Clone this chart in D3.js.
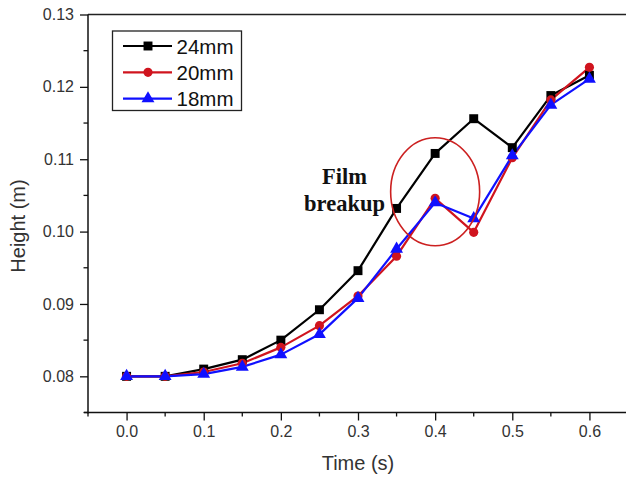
<!DOCTYPE html>
<html>
<head>
<meta charset="utf-8">
<script src="https://cdn.jsdelivr.net/npm/d3@7"></script>
<style>
  html, body { margin: 0; padding: 0; background: #fff; }
  svg { display: block; }
</style>
</head>
<body>
<svg id="chart" width="626" height="478"></svg>
<script>
// Time samples (s)
const times = [0.0, 0.05, 0.10, 0.15, 0.20, 0.25, 0.30, 0.35, 0.40, 0.45, 0.50, 0.55, 0.60];

// Interface height (m) for each nozzle size
const h24 = [0.0800, 0.0800, 0.0810, 0.0823, 0.0850, 0.0892, 0.0946, 0.1032, 0.1108, 0.1156, 0.1116, 0.1188, 0.1216];
const h20 = [0.0800, 0.0800, 0.0806, 0.0818, 0.0840, 0.0870, 0.0911, 0.0966, 0.1046, 0.0999, 0.1102, 0.1182, 0.1227];
const h18 = [0.0800, 0.0800, 0.0803, 0.0813, 0.0830, 0.0858, 0.0908, 0.0976, 0.1040, 0.1018, 0.1105, 0.1175, 0.1211];

const seriesNames = ["24mm", "20mm", "18mm"];
const xTicks = [0.0, 0.1, 0.2, 0.3, 0.4, 0.5, 0.6];
const yTicks = [0.08, 0.09, 0.10, 0.11, 0.12, 0.13];
const annotation = ["Film", "breakup"];

const SANS = "Arial, 'Liberation Sans', sans-serif";
const SERIF = "'Liberation Serif', 'Times New Roman', 'DejaVu Serif', serif";

const series = [
  { name: seriesNames[0], values: h24, color: "#000000", symbol: d3.symbolSquare, size: 80 },
  { name: seriesNames[1], values: h20, color: "#d0141e", symbol: d3.symbolCircle, size: 66 },
  { name: seriesNames[2], values: h18, color: "#1010ff", symbol: d3.symbolTriangle, size: 72 }
];

const svg = d3.select("#chart");
const plotL = 88, plotR = 628, plotT = 14.5, plotB = 412.5;

const x = d3.scaleLinear().domain([-0.05, 0.65]).range([plotL, plotR]);
const y = d3.scaleLinear().domain([0.075, 0.13]).range([plotB, plotT]);

// top frame line
svg.append("line").attr("x1", plotL).attr("x2", plotR).attr("y1", plotT).attr("y2", plotT)
  .attr("stroke", "#222").attr("stroke-width", 1.3);

// X axis
const xMinor = [-0.05, 0.05, 0.15, 0.25, 0.35, 0.45, 0.55, 0.65];
const xAxis = svg.append("g").attr("transform", `translate(0,${plotB})`);
xAxis.append("line").attr("x1", plotL - 4).attr("x2", plotR).attr("stroke", "#111").attr("stroke-width", 1.5);
xAxis.selectAll(".minor").data(xMinor).join("line")
  .attr("x1", d => x(d)).attr("x2", d => x(d)).attr("y1", 0).attr("y2", 4)
  .attr("stroke", "#111").attr("stroke-width", 1.3);
{
  const ax = d3.axisBottom(x).tickValues(xTicks).tickFormat(d3.format(".1f")).tickSizeInner(8).tickSizeOuter(0).tickPadding(5);
  const sub = xAxis.append("g").call(ax);
  sub.select(".domain").remove();
  sub.selectAll(".tick line").attr("stroke", "#111").attr("stroke-width", 1.3);
  sub.selectAll(".tick text").style("font-size", "16px").style("font-family", SANS).attr("fill", "#333");
}

// Y axis
const yMinor = [0.075, 0.085, 0.095, 0.105, 0.115, 0.125];
const yAxis = svg.append("g").attr("transform", `translate(${plotL},0)`);
yAxis.append("line").attr("y1", plotT).attr("y2", plotB + 1).attr("stroke", "#111").attr("stroke-width", 1.5);
yAxis.selectAll(".minor").data(yMinor).join("line")
  .attr("y1", d => y(d)).attr("y2", d => y(d)).attr("x1", 0).attr("x2", -4.5)
  .attr("stroke", "#111").attr("stroke-width", 1.3);
{
  const ax = d3.axisLeft(y).tickValues(yTicks).tickFormat(d3.format(".2f")).tickSizeInner(8).tickSizeOuter(0).tickPadding(6);
  const sub = yAxis.append("g").call(ax);
  sub.select(".domain").remove();
  sub.selectAll(".tick line").attr("stroke", "#111").attr("stroke-width", 1.3);
  sub.selectAll(".tick text").style("font-size", "16px").style("font-family", SANS).attr("fill", "#333");
}

// Axis titles
svg.append("text").attr("x", (plotL + plotR) / 2).attr("y", 470)
  .attr("text-anchor", "middle").style("font-family", SANS).style("font-size", "20px").attr("fill", "#333").text("Time (s)");
svg.append("text").attr("transform", "translate(25,226) rotate(-90)")
  .attr("text-anchor", "middle").style("font-family", SANS).style("font-size", "20px").attr("fill", "#333").text("Height (m)");

// Series lines and markers
const line = d3.line().x((d, i) => x(times[i])).y(d => y(d));
series.forEach(s => {
  svg.append("path").datum(s.values).attr("d", line)
    .attr("fill", "none").attr("stroke", s.color).attr("stroke-width", 2.2).attr("stroke-linejoin", "round");
});
series.forEach(s => {
  svg.append("g").selectAll("path").data(s.values).join("path")
    .attr("transform", (d, i) => `translate(${x(times[i])},${y(d)})`)
    .attr("d", d3.symbol().type(s.symbol).size(s.size))
    .attr("fill", s.color);
});

// Film breakup annotation
svg.append("ellipse").attr("cx", x(0.4)).attr("cy", y(0.1055))
  .attr("rx", 44.5).attr("ry", 54)
  .attr("fill", "none").attr("stroke", "#cc2020").attr("stroke-width", 1.6);
svg.append("text").attr("x", 344.5).attr("y", 183.5).attr("text-anchor", "middle")
  .style("font-family", SERIF).style("font-weight", "bold").style("font-size", "22.5px")
  .attr("fill", "#111").text(annotation[0]);
svg.append("text").attr("x", 344.5).attr("y", 210.5).attr("text-anchor", "middle")
  .style("font-family", SERIF).style("font-weight", "bold").style("font-size", "22.5px")
  .attr("fill", "#111").text(annotation[1]);

// Legend
const lg = svg.append("g");
lg.append("rect").attr("x", 112.5).attr("y", 31).attr("width", 129).attr("height", 79.5)
  .attr("fill", "#fff").attr("stroke", "#222").attr("stroke-width", 1.3);
series.forEach((s, i) => {
  const ry = 46 + i * 26.3;
  lg.append("line").attr("x1", 123).attr("x2", 172).attr("y1", ry).attr("y2", ry)
    .attr("stroke", s.color).attr("stroke-width", 2.2);
  lg.append("path").attr("transform", `translate(148,${ry})`)
    .attr("d", d3.symbol().type(s.symbol).size(s.size)).attr("fill", s.color);
  lg.append("text").attr("x", 176.5).attr("y", ry + 7.5)
    .style("font-family", SANS).style("font-size", "20.5px").attr("fill", "#111").text(s.name);
});
</script>
</body>
</html>
